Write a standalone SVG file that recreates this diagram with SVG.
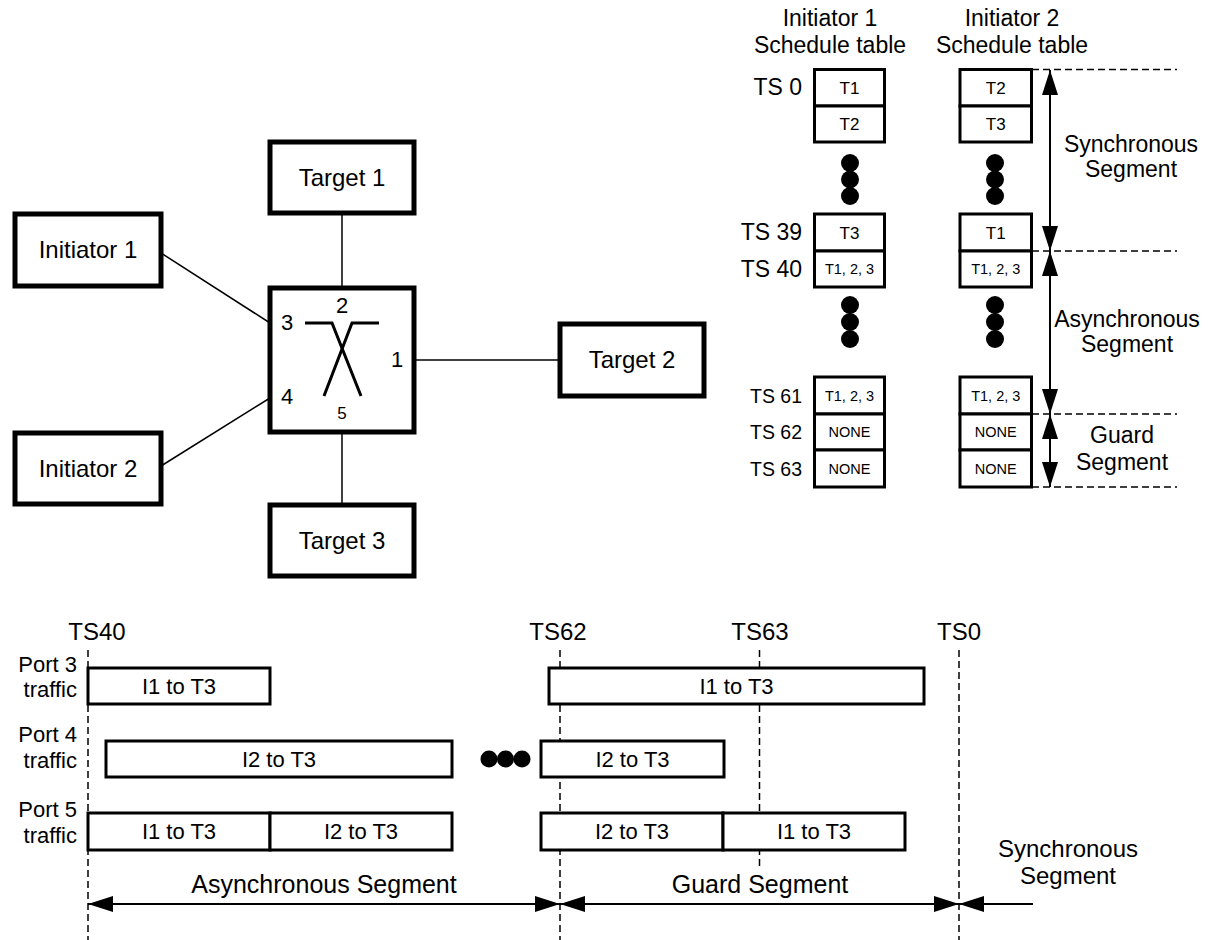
<svg xmlns="http://www.w3.org/2000/svg" width="1218" height="940" viewBox="0 0 1218 940">
<defs>
<style>
text{font-family:"Liberation Sans",Arial,sans-serif;fill:#000}
.node{fill:#fff;stroke:#000;stroke-width:5}
.nl{font-size:24px;text-anchor:middle}
.pn{font-size:22px;text-anchor:middle}
.cell{fill:#fff;stroke:#000;stroke-width:3}
.ct{font-size:17px;text-anchor:middle}
.cs{font-size:14.5px;text-anchor:middle}
.ts{font-size:23px;text-anchor:end}
.tss{font-size:19.5px;text-anchor:end}
.title{font-size:23px;text-anchor:middle}
.seg{font-size:23px;text-anchor:middle}
.bseg{font-size:25px;text-anchor:middle}
.tl{font-size:24px;text-anchor:middle}
.pl{font-size:22px;text-anchor:end}
.bx{fill:#fff;stroke:#000;stroke-width:3}
.bt{font-size:22px;text-anchor:middle}
.conn{stroke:#000;stroke-width:1.5;fill:none}
.dash{stroke:#000;stroke-width:1.5;stroke-dasharray:7 4;fill:none}
.arr{stroke:#000;stroke-width:2;fill:none}
</style>
<marker id="ah" viewBox="0 0 25 16" refX="25" refY="8" markerWidth="25" markerHeight="16" markerUnits="userSpaceOnUse" orient="auto-start-reverse">
<path d="M0,0 L25,8 L0,16 z" fill="#000"/>
</marker>
</defs>
<rect width="1218" height="940" fill="#fff"/>

<g id="connectors">
<line class="conn" x1="342" y1="213" x2="342" y2="288"/>
<line class="conn" x1="161" y1="253" x2="270" y2="323"/>
<line class="conn" x1="161" y1="466" x2="270" y2="398"/>
<line class="conn" x1="414" y1="360" x2="560" y2="360"/>
<line class="conn" x1="342" y1="432" x2="342" y2="505"/>
</g>

<g id="initiator1"><rect class="node" x="15" y="214" width="146" height="72"/><text class="nl" x="88" y="258">Initiator 1</text></g>
<g id="initiator2"><rect class="node" x="15" y="433" width="146" height="71"/><text class="nl" x="88" y="477">Initiator 2</text></g>
<g id="target1"><rect class="node" x="270" y="142" width="144" height="71"/><text class="nl" x="342" y="186">Target 1</text></g>
<g id="target2"><rect class="node" x="560" y="324" width="144" height="72"/><text class="nl" x="632" y="368">Target 2</text></g>
<g id="target3"><rect class="node" x="270" y="505" width="144" height="71"/><text class="nl" x="342" y="549">Target 3</text></g>
<g id="switch">
<rect class="node" x="270" y="288" width="144" height="144"/>
<polyline points="305,323 332,323 361,396" fill="none" stroke="#000" stroke-width="3"/>
<polyline points="379,323 352,323 324,396" fill="none" stroke="#000" stroke-width="3"/>
<text class="pn" x="342" y="313">2</text>
<text class="pn" x="287" y="330">3</text>
<text class="pn" x="397" y="367">1</text>
<text class="pn" x="287" y="404">4</text>
<text class="pn" x="342" y="419" style="font-size:17px">5</text>
</g>

<g id="table1">
<text class="title" x="830" y="26">Initiator 1</text>
<text class="title" x="830" y="53">Schedule table</text>
<rect class="cell" x="814.5" y="69.5" width="70" height="36.5"/><text class="ct" x="849.5" y="94">T1</text>
<rect class="cell" x="814.5" y="106" width="70" height="36"/><text class="ct" x="849.5" y="130">T2</text>
<circle cx="850" cy="163" r="9"/><circle cx="850" cy="179.5" r="9"/><circle cx="850" cy="196" r="9"/>
<rect class="cell" x="814.5" y="214" width="70" height="37"/><text class="ct" x="849.5" y="238.5">T3</text>
<rect class="cell" x="814.5" y="251" width="70" height="36"/><text class="cs" x="849.5" y="274">T1, 2, 3</text>
<circle cx="850" cy="305" r="9"/><circle cx="850" cy="322" r="9"/><circle cx="850" cy="339" r="9"/>
<rect class="cell" x="814.5" y="377" width="70" height="37"/><text class="cs" x="849.5" y="400.5">T1, 2, 3</text>
<rect class="cell" x="814.5" y="414" width="70" height="36"/><text class="cs" x="849.5" y="437">NONE</text>
<rect class="cell" x="814.5" y="450" width="70" height="37"/><text class="cs" x="849.5" y="473.5">NONE</text>
<text class="ts" x="802" y="95">TS 0</text>
<text class="ts" x="802" y="240">TS 39</text>
<text class="ts" x="802" y="277">TS 40</text>
<text class="tss" x="802" y="403">TS 61</text>
<text class="tss" x="802" y="439">TS 62</text>
<text class="tss" x="802" y="476">TS 63</text>
</g>

<g id="table2">
<text class="title" x="1012" y="26">Initiator 2</text>
<text class="title" x="1012" y="53">Schedule table</text>
<rect class="cell" x="960" y="69.5" width="71.5" height="36.5"/><text class="ct" x="995.75" y="94">T2</text>
<rect class="cell" x="960" y="106" width="71.5" height="36"/><text class="ct" x="995.75" y="130">T3</text>
<circle cx="995" cy="163" r="9"/><circle cx="995" cy="179.5" r="9"/><circle cx="995" cy="196" r="9"/>
<rect class="cell" x="960" y="214" width="71.5" height="37"/><text class="ct" x="995.75" y="238.5">T1</text>
<rect class="cell" x="960" y="251" width="71.5" height="36"/><text class="cs" x="995.75" y="274">T1, 2, 3</text>
<circle cx="995" cy="305" r="9"/><circle cx="995" cy="322" r="9"/><circle cx="995" cy="339" r="9"/>
<rect class="cell" x="960" y="377" width="71.5" height="37"/><text class="cs" x="995.75" y="400.5">T1, 2, 3</text>
<rect class="cell" x="960" y="414" width="71.5" height="36"/><text class="cs" x="995.75" y="437">NONE</text>
<rect class="cell" x="960" y="450" width="71.5" height="37"/><text class="cs" x="995.75" y="473.5">NONE</text>
</g>

<g id="segments-right">
<line class="dash" x1="1032" y1="69.5" x2="1177" y2="69.5"/>
<line class="dash" x1="1032" y1="251" x2="1177" y2="251"/>
<line class="dash" x1="1032" y1="414" x2="1177" y2="414"/>
<line class="dash" x1="1032" y1="487" x2="1177" y2="487"/>
<line class="arr" x1="1050" y1="70" x2="1050" y2="251" marker-start="url(#ah)" marker-end="url(#ah)"/>
<line class="arr" x1="1050" y1="251" x2="1050" y2="414" marker-start="url(#ah)" marker-end="url(#ah)"/>
<line class="arr" x1="1050" y1="414" x2="1050" y2="487" marker-start="url(#ah)" marker-end="url(#ah)"/>
<text class="seg" x="1131" y="152">Synchronous</text>
<text class="seg" x="1131" y="177">Segment</text>
<text class="seg" x="1127" y="327">Asynchronous</text>
<text class="seg" x="1127" y="352">Segment</text>
<text class="seg" x="1122" y="443">Guard</text>
<text class="seg" x="1122" y="470">Segment</text>
</g>

<g id="timeline">
<line class="dash" x1="88" y1="650" x2="88" y2="940"/>
<line class="dash" x1="560" y1="650" x2="560" y2="940"/>
<line class="dash" x1="759.5" y1="650" x2="759.5" y2="868"/>
<line class="dash" x1="959" y1="650" x2="959" y2="940"/>
<text class="tl" x="97" y="640">TS40</text>
<text class="tl" x="558" y="640">TS62</text>
<text class="tl" x="760" y="640">TS63</text>
<text class="tl" x="959" y="640">TS0</text>
<text class="pl" x="77" y="672">Port 3</text>
<text class="pl" x="77" y="697">traffic</text>
<text class="pl" x="77" y="742">Port 4</text>
<text class="pl" x="77" y="768">traffic</text>
<text class="pl" x="77" y="817">Port 5</text>
<text class="pl" x="77" y="843">traffic</text>
<rect class="bx" x="88" y="668" width="182" height="36"/><text class="bt" x="179" y="694">I1 to T3</text>
<rect class="bx" x="549" y="668" width="375" height="36"/><text class="bt" x="736.5" y="694">I1 to T3</text>
<rect class="bx" x="106" y="741" width="346" height="36"/><text class="bt" x="279" y="767">I2 to T3</text>
<circle cx="489" cy="759" r="8.5"/><circle cx="505.5" cy="759" r="8.5"/><circle cx="522" cy="759" r="8.5"/>
<rect class="bx" x="541" y="741" width="183" height="36"/><text class="bt" x="632.5" y="767">I2 to T3</text>
<rect class="bx" x="88" y="813" width="182" height="37"/><text class="bt" x="179" y="839">I1 to T3</text>
<rect class="bx" x="270" y="813" width="182" height="37"/><text class="bt" x="361" y="839">I2 to T3</text>
<rect class="bx" x="541" y="813" width="182" height="37"/><text class="bt" x="632" y="839">I2 to T3</text>
<rect class="bx" x="723" y="813" width="182" height="37"/><text class="bt" x="814" y="839">I1 to T3</text>
<line class="arr" x1="88" y1="904" x2="560" y2="904" marker-start="url(#ah)" marker-end="url(#ah)"/>
<line class="arr" x1="560" y1="904" x2="959" y2="904" marker-start="url(#ah)" marker-end="url(#ah)"/>
<line class="arr" x1="1033" y1="904" x2="959" y2="904" marker-end="url(#ah)"/>
<text class="bseg" x="324" y="893">Asynchronous Segment</text>
<text class="bseg" x="760" y="893">Guard Segment</text>
<text class="bseg" x="1068" y="857" style="font-size:24px">Synchronous</text>
<text class="bseg" x="1068" y="884" style="font-size:24px">Segment</text>
</g>
</svg>
